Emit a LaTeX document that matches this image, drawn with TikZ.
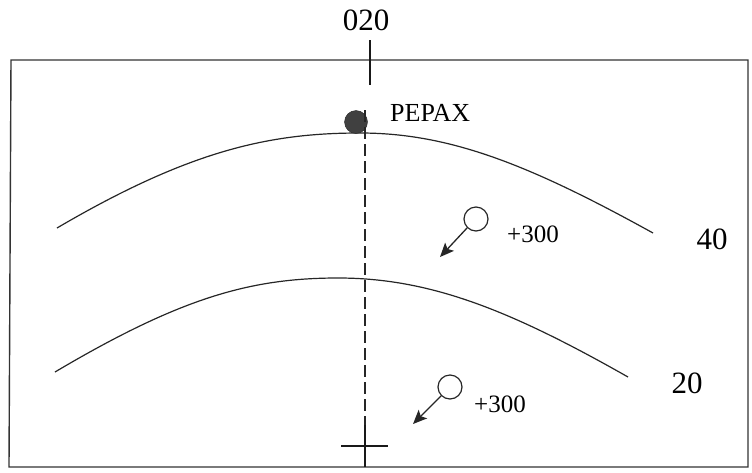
\documentclass[tikz,border=0pt]{standalone}
\usepackage{fontspec}
\setmainfont{Liberation Serif}
\usetikzlibrary{arrows.meta}
\begin{document}
\begin{tikzpicture}[x=1pt,y=-1pt,
  thinline/.style={line width=1.2pt,draw=black!85},
  frameline/.style={line width=1.4pt,draw=black!80},
  tickline/.style={line width=2.2pt,draw=black!90},
  dashline/.style={line width=1.2pt,draw=black!85,dash pattern=on 12pt off 5pt},
  target/.style={circle,draw=black!85,line width=1.2pt,minimum size=24pt,inner sep=0pt},
  moveline/.style={line width=1.3pt,draw=black!85,-{Stealth[length=14pt,width=12pt,inset=3pt]}},
  lbl/.style={font=\fontsize{31}{34}\selectfont,inner sep=0pt},
  peplbl/.style={font=\fontsize{26}{29}\selectfont,inner sep=0pt},
  smalllbl/.style={font=\fontsize{25}{28}\selectfont,inner sep=0pt}]
\useasboundingbox (0,0) rectangle (752,472);
% frame
\draw[frameline] (11,60) -- (748,60) -- (748,467) -- (9,467) -- cycle;
% top heading tick
\coordinate (tt) at (370,40);
\coordinate (tb) at (370,85);
\draw[tickline] (tt) -- (tb);
\node[lbl] (hdg) at (366,20) {020};
% contour lines
\draw[thinline] (57,228) .. controls (190,150) and (270,133) .. (360,133)
  .. controls (450,133) and (530,165) .. (653,233);
\draw[thinline] (55,372) .. controls (180,298) and (250,278) .. (338,278)
  .. controls (430,278) and (510,310) .. (628,377);
\node[lbl] (l40) at (712,239) {40};
\node[lbl] (l20) at (687,383) {20};
% summit dot
\node[circle,fill=black!75,draw=black!85,minimum size=23pt,inner sep=0pt] (dot) at (356,122) {};
\node[peplbl,anchor=west] (pepax) at (390,113) {PEPAX};
% dashed bearing line
\coordinate (dtop) at (365,110);
\coordinate (dbot) at (365,425);
\coordinate (cbot) at (365,467);
\draw[dashline] (dtop) -- (dbot);
\draw[tickline,line width=1.8pt] (dbot) -- (cbot);
\coordinate (cl) at (341,446);
\coordinate (cr) at (388,446);
\draw[tickline,line width=1.8pt] (cl) -- (cr);
% targets
\node[target] (t1) at (476,219) {};
\coordinate (a1) at (440,257);
\draw[moveline] (t1.-135) -- (a1);
\node[smalllbl,anchor=west] (h1) at (507,234) {+300};
\node[target] (t2) at (450,387) {};
\coordinate (a2) at (413,424);
\draw[moveline] (t2.-135) -- (a2);
\node[smalllbl,anchor=west] (h2) at (474,404) {+300};
\end{tikzpicture}
\end{document}
